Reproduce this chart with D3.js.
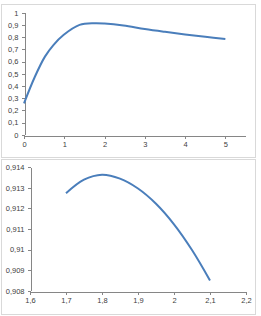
<!DOCTYPE html>
<meta charset="utf-8">
<style>
    body { margin: 0; background: #fff; }
    svg { display: block; }
    .frame { fill: #fff; stroke: #d9d9d9; stroke-width: 1; }
    .axis path, .axis line { stroke: #868686; shape-rendering: crispEdges; }
    .axis text { font: 7.5px "Liberation Sans", sans-serif; fill: #404040; }
    .curve { fill: none; stroke: #4a7ebb; stroke-width: 2; }
</style>
<svg width="261" height="316"></svg>
<script src="https://d3js.org/d3.v7.min.js"></script>
<script>
    // top chart: whole curve
    var topX = [0, 0.27, 0.52, 0.73, 0.98, 1.38, 1.75, 2.0, 2.47, 3, 3.5, 4, 4.5, 5];
    var topY = [0.257, 0.475, 0.64, 0.735, 0.817, 0.90, 0.9135, 0.911, 0.895, 0.866, 0.843, 0.822, 0.803, 0.784];
    var topXTicks = [0, 1, 2, 3, 4, 5];
    var topXLabels = ["0", "1", "2", "3", "4", "5"];
    var topYTicks = [0, 0.1, 0.2, 0.3, 0.4, 0.5, 0.6, 0.7, 0.8, 0.9, 1];
    var topYLabels = ["0", "0,1", "0,2", "0,3", "0,4", "0,5", "0,6", "0,7", "0,8", "0,9", "1"];

    // bottom chart: zoom near the maximum
    var botX = [1.7, 1.75, 1.8, 1.85, 1.9, 1.95, 2.0, 2.05, 2.1];
    var botY = [0.91274, 0.9134, 0.91364, 0.91345, 0.91297, 0.91223, 0.91123, 0.90998, 0.9085];
    var botXTicks = [1.6, 1.7, 1.8, 1.9, 2.0, 2.1, 2.2];
    var botXLabels = ["1,6", "1,7", "1,8", "1,9", "2", "2,1", "2,2"];
    var botYTicks = [0.908, 0.909, 0.91, 0.911, 0.912, 0.913, 0.914];
    var botYLabels = ["0,908", "0,909", "0,91", "0,911", "0,912", "0,913", "0,914"];

    var svg = d3.select("svg");

    function drawChart(cfg) {
        var g = svg.append("g");
        g.append("rect").attr("class", "frame")
            .attr("x", cfg.frame[0] + 0.5).attr("y", cfg.frame[1] + 0.5)
            .attr("width", cfg.frame[2]).attr("height", cfg.frame[3]);

        var x = d3.scaleLinear().domain(cfg.xDomain).range(cfg.xRange);
        var y = d3.scaleLinear().domain(cfg.yDomain).range(cfg.yRange);

        var xAxis = d3.axisBottom(x).tickValues(cfg.xTicks).tickSize(3).tickSizeOuter(0)
            .tickFormat(function(d, i) { return cfg.xLabels[i]; });
        var yAxis = d3.axisLeft(y).tickValues(cfg.yTicks).tickSize(3).tickSizeOuter(0)
            .tickFormat(function(d, i) { return cfg.yLabels[i]; });

        var gx = g.append("g").attr("class", "axis")
            .attr("transform", "translate(0," + (Math.round(cfg.yRange[0]) + 0.5) + ")")
            .call(xAxis);
        gx.selectAll("text").attr("dy", "0").attr("y", 11);

        var gy = g.append("g").attr("class", "axis")
            .attr("transform", "translate(" + (Math.round(cfg.xRange[0]) + 0.5) + ",0)")
            .call(yAxis);
        gy.selectAll("text").attr("x", -6).attr("dy", "0.32em");

        var pts = cfg.xs.map(function(d, i) { return [d, cfg.ys[i]]; });
        var line = d3.line()
            .x(function(d) { return x(d[0]); })
            .y(function(d) { return y(d[1]); })
            .curve(d3.curveCatmullRom.alpha(0.5));
        g.append("path").attr("class", "curve").attr("d", line(pts));
    }

    drawChart({
        frame: [1, 4, 254, 153],
        xDomain: [0, 5.5], xRange: [24, 245.5],
        yDomain: [0, 1], yRange: [134.7, 12.7],
        xTicks: topXTicks, xLabels: topXLabels,
        yTicks: topYTicks, yLabels: topYLabels,
        xs: topX, ys: topY
    });

    drawChart({
        frame: [1, 159, 254, 155],
        xDomain: [1.6, 2.2], xRange: [30, 246],
        yDomain: [0.908, 0.914], yRange: [290.7, 167.3],
        xTicks: botXTicks, xLabels: botXLabels,
        yTicks: botYTicks, yLabels: botYLabels,
        xs: botX, ys: botY
    });
</script>
